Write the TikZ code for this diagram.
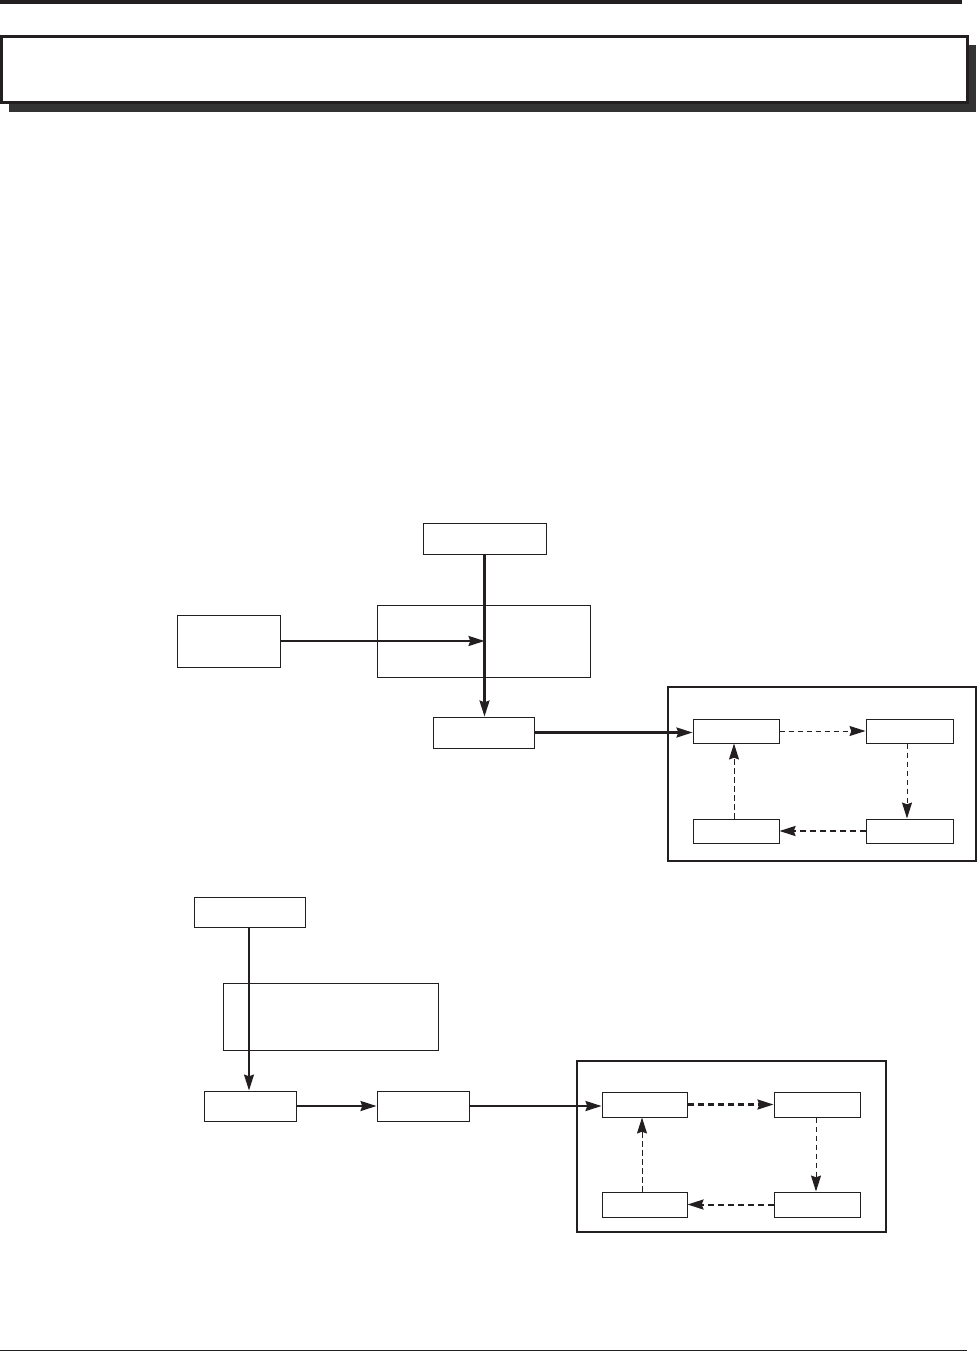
\documentclass[tikz,border=0pt]{standalone}
\usetikzlibrary{arrows.meta}
\definecolor{ink}{HTML}{231F20}
\definecolor{shadowgray}{HTML}{333333}
\begin{document}
\begin{tikzpicture}[x=1pt,y=-1pt,
  box/.style={draw=ink,line width=1pt,inner sep=0pt,fill=white},
  frame/.style={draw=ink,line width=1.1pt,inner sep=0pt},
  tip/.style={-{Stealth[length=16pt,width=10pt,inset=1.8pt]}},
  thickline/.style={draw=ink,line width=2.2pt},
  thinline/.style={draw=ink,line width=1.3pt},
  thindash/.style={draw=ink,line width=1pt,dash pattern=on 5.5pt off 3.5pt},
  thickdash/.style={draw=ink,line width=2.2pt,dash pattern=on 6pt off 4pt}]
\useasboundingbox (0,0) rectangle (977,1352);
% page rules and header
\fill[ink] (0,0) rectangle (962,4);
\draw[ink,line width=1pt] (0,1350.5) -- (967,1350.5);
\fill[shadowgray] (9,45) rectangle (976,112);
\draw[ink,fill=white,line width=2.6pt] (1.5,36.5) rectangle (967.5,102.5);
% ---- diagram 1 ----
\node[box,minimum width=123pt,minimum height=31pt] (A) at (484.5,538.5) {};
\node[box,minimum width=213pt,minimum height=72pt] (B) at (483.5,641) {};
\node[box,minimum width=103pt,minimum height=52pt] (C) at (228.5,641) {};
\node[box,minimum width=101pt,minimum height=31pt] (D) at (483.5,732.5) {};
\node[frame,minimum width=308pt,minimum height=174pt] (F1) at (822,774) {};
\node[box,minimum width=86pt,minimum height=24pt] (P1) at (736,731) {};
\node[box,minimum width=87pt,minimum height=24pt] (Q1) at (909.5,731) {};
\node[box,minimum width=86pt,minimum height=24pt] (R1) at (736,831) {};
\node[box,minimum width=87pt,minimum height=24pt] (S1) at (909.5,831) {};
\draw[thickline,tip] (A.south) -- (A.south |- D.north);
\draw[thickline,tip] (C.east) -- (C.east -| A.south);
\draw[thickline,tip] (D.east) -- (D.east -| P1.west);
\draw[thindash,tip] (P1.east) -- (Q1.west);
\draw[thindash,tip] ([xshift=-2.5pt]Q1.south) -- ([xshift=-2.5pt]S1.north);
\draw[thickdash,tip] (S1.west) -- (R1.east);
\draw[thindash,tip] ([xshift=-2pt]R1.north) -- ([xshift=-2pt]P1.south);
% ---- diagram 2 ----
\node[box,minimum width=111pt,minimum height=30pt] (E) at (249.5,912) {};
\node[box,minimum width=215pt,minimum height=67pt] (F) at (330.5,1016.5) {};
\node[box,minimum width=92pt,minimum height=30pt] (G) at (250,1106) {};
\node[box,minimum width=92pt,minimum height=30pt] (H) at (423,1106) {};
\node[frame,minimum width=309pt,minimum height=171pt] (F2) at (731.5,1146.5) {};
\node[box,minimum width=85pt,minimum height=25pt] (P2) at (644.5,1104.5) {};
\node[box,minimum width=86pt,minimum height=25pt] (Q2) at (817,1104.5) {};
\node[box,minimum width=85pt,minimum height=25pt] (R2) at (644.5,1204.5) {};
\node[box,minimum width=86pt,minimum height=25pt] (S2) at (817,1204.5) {};
\draw[thinline,tip] ([xshift=-0.5pt]E.south) -- ([xshift=-0.5pt]E.south |- G.north);
\draw[thickline,tip] (G.east) -- (H.west);
\draw[thickline,tip] (H.east) -- (H.east -| P2.west);
\draw[thickdash,tip] (P2.east) -- (Q2.west);
\draw[thindash,tip] ([xshift=-1pt]Q2.south) -- ([xshift=-1pt]S2.north);
\draw[thickdash,line width=2pt,tip] (S2.west) -- (R2.east);
\draw[thindash,tip] ([xshift=-2.5pt]R2.north) -- ([xshift=-2.5pt]P2.south);
\end{tikzpicture}
\end{document}
